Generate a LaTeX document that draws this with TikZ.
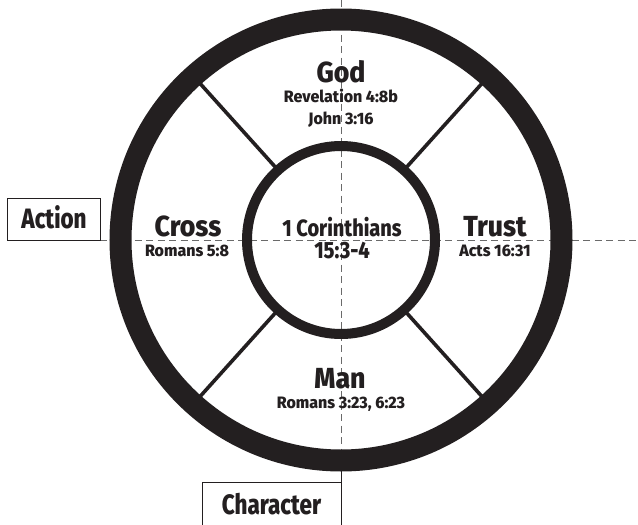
\documentclass[tikz,border=0pt]{standalone}
\usepackage{fontspec}
\usetikzlibrary{calc}
\setmainfont{Fira Sans}[UprightFont=* Bold]
\newfontfamily\reffont{Fira Sans}[UprightFont=* ExtraBold,FakeStretch=0.97]
\newfontfamily\titlefont{Fira Sans}[UprightFont=* ExtraBold,FakeStretch=0.92]
\newfontfamily\centerfont{Fira Sans}[UprightFont=* ExtraBold,FakeStretch=0.85]
\newfontfamily\boxfont{Fira Sans}[UprightFont=* ExtraBold,FakeStretch=0.80]
\definecolor{ink}{HTML}{231F20}
\definecolor{dashgray}{HTML}{6A6A6A}
\begin{document}
\begin{tikzpicture}[x=1pt,y=-1pt,
  guide/.style={draw=dashgray,line width=1pt,dash pattern=on 7pt off 4.5pt},
  labelbox/.style={draw=ink,line width=0.9pt},
  title/.style={anchor=base,text=ink,font=\titlefont\fontsize{29}{30}\selectfont,inner sep=0pt},
  ref/.style={anchor=base,text=ink,font=\reffont\fontsize{16.5}{17}\selectfont,inner sep=0pt},
  centertext/.style={anchor=base,text=ink,font=\centerfont\fontsize{23.5}{24}\selectfont,inner sep=0pt},
  boxtext/.style={anchor=base,text=ink,font=\boxfont\fontsize{28}{28}\selectfont,inner sep=0pt},
  spoke/.style={draw=ink,line width=3.6pt}]
\useasboundingbox (0,0) rectangle (638,525);
\coordinate (c) at (341,240);
% guide lines
\coordinate (vtop) at (341,0);
\coordinate (vbot) at (341,482);
\coordinate (hl) at (100,240);
\coordinate (hr) at (638,240);
\draw[guide] (vtop) -- (vbot);
\draw[guide] (hl) -- (hr);
% boxes
\draw[labelbox] (100,240) -- (7,240) -- (7,198) -- (100,198) -- cycle;
\node[boxtext] (action) at (54,228) {Action};
\draw[labelbox] (341,470) -- (341,530) (202,530) -- (202,482) -- (341,482);
\node[boxtext] (character) at (271.5,514) {Character};
% ring
\draw[draw=ink,line width=22pt] (c) circle[radius=220.5pt];
\draw[ink,line width=10pt] (c) circle[radius=94pt];
% spokes
\foreach \a in {132,48,228,312}{
  \draw[spoke] ($(c)+({cos(\a)*98},{-sin(\a)*98})$) -- ($(c)+({cos(\a)*211},{-sin(\a)*211})$);
}
% texts
\node[title] (god) at (341,82) {God};
\node[ref] (rev) at (341,102) {Revelation 4:8b};
\node[ref] (john) at (341,124) {John 3:16};
\node[title] (cross) at (188,236) {Cross};
\node[ref] (rom58) at (187,256) {Romans 5:8};
\node[centertext] (cor) at (342,236) {1 Corinthians};
\node[centertext] (cor2) at (342,258) {15:3-4};
\node[title] (trust) at (495,236) {Trust};
\node[ref] (acts) at (495,256) {Acts 16:31};
\node[title] (man) at (340,388) {Man};
\node[ref] (rom323) at (341,408) {Romans 3:23, 6:23};
\end{tikzpicture}
\end{document}
